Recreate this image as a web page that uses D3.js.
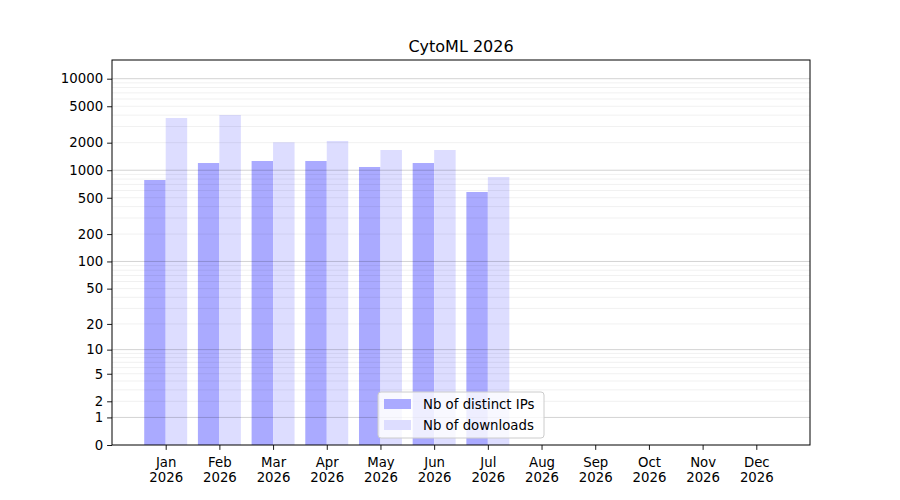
<!DOCTYPE html>
<html>
<head>
<meta charset="utf-8">
<script src="https://cdn.jsdelivr.net/npm/d3@7"></script>
<style>
  body { margin: 0; background: #fff; }
  text { font-family: "DejaVu Sans", sans-serif; }
</style>
</head>
<body>
<div id="chart"></div>
<script>
// monthly stats
var months = ["Jan", "Feb", "Mar", "Apr", "May", "Jun", "Jul", "Aug", "Sep", "Oct", "Nov", "Dec"];
var year = "2026";
var ips = [782, 1199, 1262, 1262, 1085, 1199, 578];
var downloads = [3720, 4010, 2019, 2088, 1664, 1664, 844];
var yTicks = [0, 1, 2, 5, 10, 20, 50, 100, 200, 500, 1000, 2000, 5000, 10000];
var majorGrid = [1, 10, 100, 1000, 10000];
var seriesNames = ["Nb of distinct IPs", "Nb of downloads"];
var colors = ["#aaaaff", "#ddddff"];

var w = 900;
var h = 500;
// plot box (note: "top" is taken by window.top)
var pLeft = 112, pRight = 810, pTop = 60, pBottom = 445;

var svg = d3.select("#chart")
            .append("svg")
            .attr("width", w)
            .attr("height", h);

var xscale = d3.scaleLinear()
                .domain([-1, 12])
                .range([pLeft, pRight]);

var yscale = d3.scaleSymlog()
                .constant(1)
                .domain([0, 16000])
                .range([pBottom, pTop]);

var barw = 0.4;

// IPs bars (left of the tick)
svg.append("g")
    .selectAll("rect")
    .data(ips)
    .enter()
    .append("rect")
    .attr("x", function(d, i) { return xscale(i - barw); })
    .attr("width", xscale(barw) - xscale(0))
    .attr("y", function(d) { return yscale(d); })
    .attr("height", function(d) { return yscale(0) - yscale(d); })
    .attr("fill", colors[0]);

// downloads bars (right of the tick)
svg.append("g")
    .selectAll("rect")
    .data(downloads)
    .enter()
    .append("rect")
    .attr("x", function(d, i) { return xscale(i); })
    .attr("width", xscale(barw) - xscale(0))
    .attr("y", function(d) { return yscale(d); })
    .attr("height", function(d) { return yscale(0) - yscale(d); })
    .attr("fill", colors[1]);

// minor grid: 2..9 x each decade
var minorGrid = [];
[1, 10, 100, 1000, 10000].forEach(function(p) {
    for (var m = 2; m <= 9; m++) {
        if (m * p < 16000) minorGrid.push(m * p);
    }
});

svg.append("g")
    .selectAll("line")
    .data(minorGrid)
    .enter()
    .append("line")
    .attr("x1", pLeft).attr("x2", pRight)
    .attr("y1", function(d) { return yscale(d); })
    .attr("y2", function(d) { return yscale(d); })
    .attr("stroke", "#000")
    .attr("stroke-opacity", 0.075)
    .attr("stroke-width", 0.8);

svg.append("g")
    .selectAll("line")
    .data(majorGrid)
    .enter()
    .append("line")
    .attr("x1", pLeft).attr("x2", pRight)
    .attr("y1", function(d) { return yscale(d); })
    .attr("y2", function(d) { return yscale(d); })
    .attr("stroke", "#000")
    .attr("stroke-opacity", 0.2)
    .attr("stroke-width", 0.9);

// axes
var xaxis = d3.axisBottom(xscale)
                .tickValues(d3.range(12))
                .tickSize(4.9)
                .tickPadding(7.5)
                .tickFormat(function(i) { return months[i]; });

var yaxis = d3.axisLeft(yscale)
                .tickValues(yTicks)
                .tickSize(4.9)
                .tickPadding(4)
                .tickFormat(d3.format("d"));

var gx = svg.append("g")
    .attr("transform", "translate(0," + pBottom + ")")
    .call(xaxis);

gx.selectAll(".tick text")
    .attr("font-size", 13.3)
    .attr("fill", "#000")
    .each(function() {
        d3.select(this).append("tspan")
            .attr("x", 0)
            .attr("dy", 15.6)
            .text(year);
    });

var gy = svg.append("g")
    .attr("transform", "translate(" + pLeft + ",0)")
    .call(yaxis);

gy.selectAll(".tick text")
    .attr("font-size", 13.3)
    .attr("fill", "#000");

[gx, gy].forEach(function(g) {
    g.select(".domain").remove();
    g.selectAll(".tick line").attr("stroke", "#000").attr("stroke-width", 0.9);
});

// frame
svg.append("rect")
    .attr("x", pLeft).attr("y", pTop)
    .attr("width", pRight - pLeft).attr("height", pBottom - pTop)
    .attr("fill", "none")
    .attr("stroke", "#000")
    .attr("stroke-width", 1);

// title
svg.append("text")
    .attr("x", (pLeft + pRight) / 2)
    .attr("y", pTop - 8)
    .attr("text-anchor", "middle")
    .attr("font-size", 16)
    .text("CytoML 2026");

// legend
var lg = svg.append("g").attr("transform", "translate(378,392)");

lg.append("rect")
    .attr("width", 166).attr("height", 46)
    .attr("rx", 3)
    .attr("fill", "#fff")
    .attr("fill-opacity", 0.8)
    .attr("stroke", "#ccc")
    .attr("stroke-width", 1);

seriesNames.forEach(function(name, i) {
    lg.append("rect")
        .attr("x", 6).attr("y", 7 + i * 21)
        .attr("width", 27).attr("height", 10)
        .attr("fill", colors[i]);
    lg.append("text")
        .attr("x", 45).attr("y", 17 + i * 21)
        .attr("font-size", 13.3)
        .text(name);
});
</script>
</body>
</html>
